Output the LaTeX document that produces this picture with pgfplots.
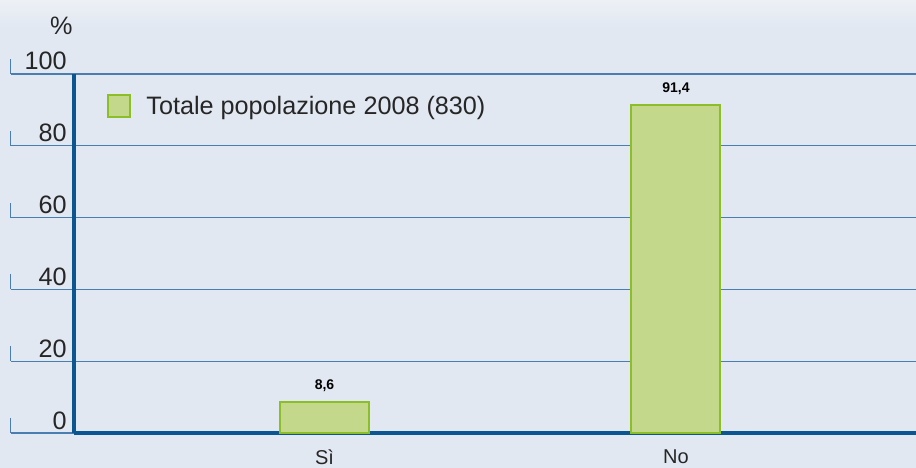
\documentclass[border=0pt]{standalone}
\usepackage{fontspec}
\setmainfont{Liberation Sans}
\usepackage{pgfplots}
\pgfplotsset{compat=1.18}

\definecolor{bg}{HTML}{E1E8F2}
\definecolor{bgtop}{HTML}{EDF0F5}
\definecolor{gridcol}{HTML}{4A7DB0}
\definecolor{axiscol}{HTML}{0B5690}
\definecolor{barfill}{HTML}{C3D88A}
\definecolor{barborder}{HTML}{8CBE28}

\begin{document}
\begin{tikzpicture}
% 1 px of the reference = 0.5bp
\fill[bg] (0,0) rectangle (458bp,234bp);
\shade[top color=bgtop, bottom color=bg] (0,234bp) rectangle (458bp,220bp);
\begin{axis}[
  at={(37bp,17.5bp)}, anchor=south west,
  scale only axis, width=421bp, height=179.5bp,
  xmin=-0.7127, xmax=1.683, ymin=0, ymax=100,
  axis x line*=bottom, axis y line*=left,
  axis line style={axiscol, line width=2.2bp},
  ytick={0,20,...,100},
  ymajorgrids, grid style={gridcol, line width=0.6bp},
  tick align=outside, major tick length=31.5bp,
  ytick style={gridcol, line width=0.6bp},
  xtick={0,1}, xticklabels={Sì, No},
  xtick style={draw=none},
  /pgf/number format/assume math mode=true,
  yticklabel style={anchor=base east, inner sep=0pt, xshift=28bp, yshift=2bp,
    font=\fontsize{12.6bp}{14bp}\selectfont, text=black!85},
  xticklabel style={anchor=north, inner sep=0pt, yshift=23.5bp,
    font=\fontsize{10bp}{12bp}\selectfont, text=black!85},
  ybar, bar width=44.5bp,
  nodes near coords={\pgfmathprintnumber[use comma, fixed, precision=1]{\pgfplotspointmeta}},
  nodes near coords style={font=\bfseries\fontsize{7bp}{8bp}\selectfont, text=black, yshift=1.5bp},
  clip=false,
  legend style={at={(rel axis cs:0.0392,0.9095)}, anchor=west, draw=none, fill=none,
    inner sep=0pt, font=\fontsize{12.6bp}{14bp}\selectfont, text=black!85,
    nodes={inner sep=0pt}, /tikz/every odd column/.style={column sep=7.5bp}},
  legend image code/.code={\draw[fill=barfill, draw=barborder, line width=1bp] (0bp,-5.5bp) rectangle (11bp,5.5bp);},
]
\addplot[fill=barfill, draw=barborder, line width=1bp] coordinates {(0,8.6) (1,91.4)};
\addlegendentry{Totale popolazione 2008 (830)}
\pgfplotsinvokeforeach{0,0.2,0.4,0.6,0.8,1}{
  \draw[gridcol, line width=0.5bp] ([xshift=-31.5bp]rel axis cs:0,#1) -- ++(0pt,7.5bp);
}
\node[anchor=base east, inner sep=0pt, font=\fontsize{12.6bp}{14bp}\selectfont, text=black!85]
  at ([xshift=-0.5bp, yshift=19.5bp]rel axis cs:0,1) {\%};
\end{axis}
\pgfresetboundingbox
\useasboundingbox (0,0) rectangle (458bp,234bp);
\end{tikzpicture}
\end{document}
